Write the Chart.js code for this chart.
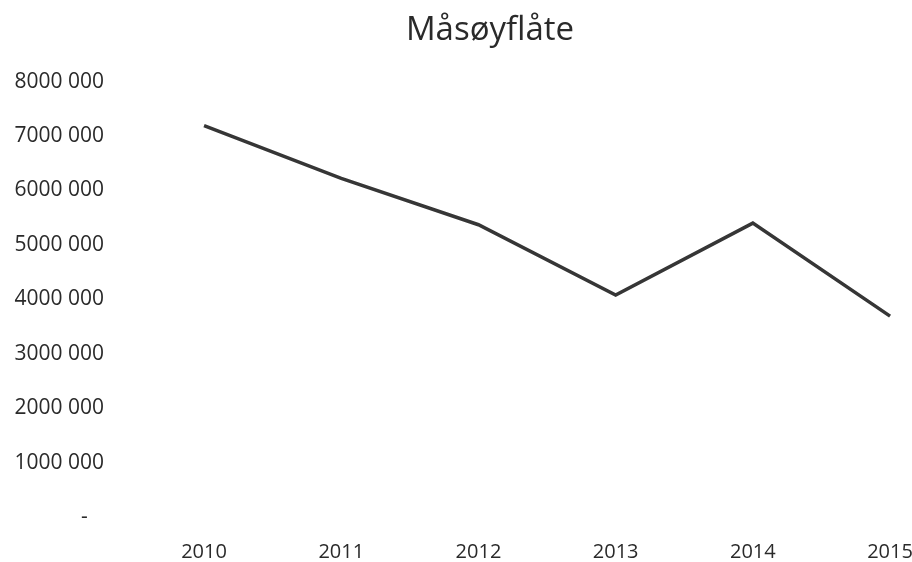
<!DOCTYPE html>
<html>
<head>
<meta charset="utf-8">
<title>Måsøyflåte</title>
<script src="https://cdn.jsdelivr.net/npm/chart.js@4.4.1/dist/chart.umd.min.js"></script>
<style>
  html, body { margin: 0; padding: 0; background: #fff; }
  #wrap { width: 912px; height: 562px; }
</style>
</head>
<body>
<div id="wrap"><canvas id="myChart"></canvas></div>
<script>
// data
const years = [2010, 2011, 2012, 2013, 2014, 2015];
const fleetValues = [7190000, 6220000, 5370000, 4080000, 5400000, 3690000];
const yTicks = [0, 1000000, 2000000, 3000000, 4000000, 5000000, 6000000, 7000000, 8000000];
const yTickLabels = ['-\u00a0\u00a0\u00a0', '1000 000', '2000 000', '3000 000', '4000 000',
                     '5000 000', '6000 000', '7000 000', '8000 000'];

const ctx = document.getElementById('myChart');
const textColor = '#2a2a2a';
const fontFamily = '"Open Sans", "Liberation Sans", sans-serif';

// the source picture is cropped on the right, so the title sits right of the canvas centre
const shiftTitle = {
    id: 'shiftTitle',
    afterLayout: function (chart) {
        chart.titleBlock.left += 34;
        chart.titleBlock.right += 34;
    }
};

const points = years.map(function (y, i) { return { x: y, y: fleetValues[i] }; });

const myChart = new Chart(ctx, {
    type: 'line',
    data: {
        datasets: [{
            label: 'Måsøyflåte',
            data: points,
            borderColor: '#363636',
            borderWidth: 3.5,
            pointRadius: 0,
            tension: 0,
            fill: false
        }]
    },
    options: {
        responsive: true,
        maintainAspectRatio: false,
        animation: false,
        scales: {
            x: {
                type: 'linear',
                // half a category of space left of 2010, cut off just right of 2015
                min: 2009.504,
                max: 2015.16,
                grid: { display: false, drawTicks: false },
                border: { display: false },
                afterBuildTicks: function (scale) {
                    scale.ticks = years.map(function (v) { return { value: v }; });
                },
                afterFit: function (scale) {
                    scale.height = 45;
                    scale.paddingLeft = 0;
                    scale.paddingRight = 0;
                },
                ticks: {
                    color: textColor,
                    padding: 23,
                    maxRotation: 0,
                    autoSkip: false,
                    font: { family: fontFamily, size: 20, lineHeight: 1.2 },
                    callback: function (value) { return String(value); }
                }
            },
            y: {
                min: 0,
                max: 8000000,
                grid: { display: false, drawTicks: false },
                border: { display: false },
                afterFit: function (scale) { scale.width = 136; },
                afterBuildTicks: function (scale) {
                    scale.ticks = yTicks.map(function (v) { return { value: v }; });
                },
                ticks: {
                    color: textColor,
                    padding: 32,
                    font: { family: fontFamily, size: 21 },
                    callback: function (value) {
                        const i = yTicks.indexOf(value);
                        return i >= 0 ? yTickLabels[i] : '';
                    }
                }
            }
        },
        plugins: {
            legend: { display: false },
            tooltip: { enabled: false },
            title: {
                display: true,
                text: 'Måsøyflåte',
                color: textColor,
                font: { family: fontFamily, size: 33, weight: 'normal', lineHeight: 1.2 },
                padding: { top: 11, bottom: 31 }
            }
        }
    },
    plugins: [shiftTitle]
});
</script>
</body>
</html>
